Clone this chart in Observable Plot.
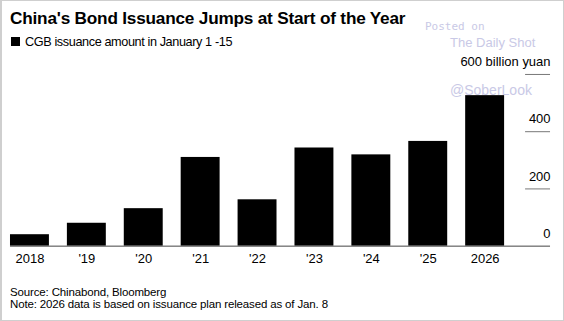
<!DOCTYPE html>
<html>
<head>
<meta charset="utf-8">
<script src="https://cdn.jsdelivr.net/npm/d3@7"></script>
<script src="https://cdn.jsdelivr.net/npm/@observablehq/plot@0.6"></script>
<style>
  html, body { margin: 0; padding: 0; background: #fff; }
  #wrap { position: relative; width: 564px; height: 321px; box-sizing: border-box; border: 1px solid #cfcfcf; border-left-width: 2px; overflow: hidden; font-family: "Liberation Sans", Arial, sans-serif; color: #000; }
  .abs { position: absolute; white-space: nowrap; }
  #title { left: 8px; top: 6.5px; font-size: 17.2px; line-height: 20px; font-weight: bold; letter-spacing: -0.2px; }
  #legend { left: 8px; top: 34px; font-size: 12.7px; line-height: 14px; letter-spacing: -0.4px; }
  #legend .sw { display: inline-block; width: 9px; height: 9px; background: #000; margin-right: 5px; margin-left: 1px; vertical-align: 0px; }
  #chart { left: -2px; top: 51px; }
  #foot { left: 8px; top: 285px; font-size: 11.5px; line-height: 12px; letter-spacing: -0.15px; }
  .wm { color: #c9c9e6; }
</style>
</head>
<body>
<div id="wrap">
  <div id="title" class="abs">China's Bond Issuance Jumps at Start of the Year</div>
  <div id="legend" class="abs"><span class="sw"></span>CGB issuance amount in January 1 -15</div>
  <div id="chart" class="abs"></div>
  <div id="foot" class="abs">Source: Chinabond, Bloomberg<br>Note: 2026 data is based on issuance plan released as of Jan. 8</div>
  <div class="abs wm" style="left:423px;top:19px;font-family:'DejaVu Sans Mono',monospace;font-size:11px;">Posted on</div>
  <div class="abs wm" style="left:448px;top:34px;font-size:13px;">The Daily Shot</div>
  <div class="abs wm" style="left:448px;top:81px;font-size:14px;">@SoberLook</div>
</div>
<script>
const years = ["2018", "'19", "'20", "'21", "'22", "'23", "'24", "'25", "2026"];
const values = [40, 80, 131, 310, 162, 343, 319, 366, 526];
const yTicks = [0, 200, 400, 600];
const yUnit = "billion yuan";

const data = years.map((y, i) => ({year: y, value: values[i]}));

const chart = Plot.plot({
  width: 564,
  height: 218,
  marginLeft: 10,
  marginRight: 13,
  marginTop: 22,
  marginBottom: 24,
  style: {fontFamily: "'Liberation Sans', Arial, sans-serif", fontSize: "13px", color: "#000", background: "transparent"},
  x: {domain: years, range: [10, 512.7], paddingInner: 0.31, paddingOuter: 0, align: 0, label: null},
  y: {domain: [0, 600], label: null},
  marks: [
    Plot.barY(data, {x: "year", y: "value", fill: "#000"}),
    Plot.ruleY(yTicks.filter(d => d > 0), {stroke: "#777", strokeWidth: 1, insetLeft: 516}),
    Plot.ruleY([0], {stroke: "#444", strokeWidth: 1}),
    Plot.axisX({tickSize: 0, tickPadding: 8, fontSize: 13, label: null}),
    Plot.axisY({anchor: "right", ticks: yTicks, tickSize: 0, tickPadding: 0, textAnchor: "end", dy: -12.5, fontSize: 13, label: null,
      tickFormat: d => d === 600 ? `${d} ${yUnit}` : `${d}`})
  ]
});
document.getElementById("chart").appendChild(chart);
</script>
</body>
</html>
